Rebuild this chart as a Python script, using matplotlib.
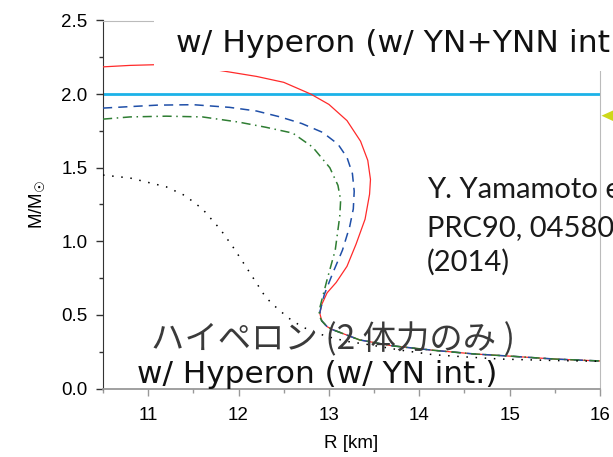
import matplotlib
matplotlib.use("Agg")
import matplotlib.pyplot as plt
from matplotlib.patches import Rectangle, Polygon
from matplotlib.ticker import MultipleLocator

# ---- data (R [km], M/Msun) ----
red_R = [10.5, 10.8, 11.1, 11.5, 11.9, 12.2, 12.5, 12.8, 13.0, 13.2, 13.35, 13.43, 13.46, 13.45,
         13.40, 13.30, 13.20, 13.08, 12.98, 12.92, 12.90, 12.92, 12.98, 13.04, 13.34, 13.7, 14.15,
         14.6, 15.0, 15.5, 16.0]
red_M = [2.185, 2.195, 2.20, 2.19, 2.15, 2.12, 2.08, 2.00, 1.93, 1.82, 1.68, 1.55, 1.42, 1.32,
         1.15, 0.98, 0.83, 0.72, 0.65, 0.57, 0.51, 0.46, 0.42, 0.40, 0.33, 0.29, 0.26,
         0.235, 0.22, 0.20, 0.187]

blue_R = [10.5, 10.8, 11.1, 11.5, 11.9, 12.2, 12.46, 12.7, 12.93, 13.1, 13.2, 13.26, 13.28, 13.27,
          13.23, 13.15, 13.04, 12.95, 12.90, 12.92, 12.98, 13.04, 13.34, 13.7, 14.15, 14.6, 15.0,
          15.5, 16.0]
blue_M = [1.905, 1.915, 1.925, 1.928, 1.91, 1.885, 1.845, 1.80, 1.74, 1.66, 1.57, 1.46, 1.34, 1.22,
          1.10, 0.94, 0.78, 0.64, 0.52, 0.46, 0.42, 0.40, 0.33, 0.29, 0.26, 0.235, 0.22,
          0.20, 0.187]

green_R = [10.5, 10.8, 11.2, 11.6, 12.0, 12.3, 12.6, 12.82, 13.01, 13.1, 13.13, 13.12, 13.07,
           12.98, 12.90, 12.89, 12.92, 12.98, 13.04, 13.34, 13.7, 14.15, 14.6, 15.0, 15.5, 16.0]
green_M = [1.83, 1.845, 1.85, 1.845, 1.81, 1.775, 1.735, 1.64, 1.50, 1.38, 1.28, 1.17, 0.94,
           0.74, 0.55, 0.50, 0.46, 0.42, 0.40, 0.33, 0.29, 0.26, 0.235, 0.22, 0.20, 0.187]

dot_R = [10.5, 10.8, 11.0, 11.2, 11.41, 11.6, 11.8, 11.94, 12.1, 12.3, 12.4, 12.55, 12.7, 12.85,
         13.0, 13.2, 13.42, 13.8, 14.15, 14.5, 14.9, 15.5, 16.0]
dot_M = [1.45, 1.43, 1.40, 1.37, 1.31, 1.22, 1.08, 0.96, 0.81, 0.62, 0.56, 0.48, 0.42, 0.38,
         0.35, 0.32, 0.30, 0.26, 0.23, 0.215, 0.20, 0.19, 0.185]

obs_mass = 2.0
x_ticks = [11, 12, 13, 14, 15, 16]
y_ticks = [0.0, 0.5, 1.0, 1.5, 2.0, 2.5]

W, H = 613, 457
fig = plt.figure(figsize=(W / 100, H / 100), dpi=100)
ax = fig.add_axes([103 / W, 1 - 388.5 / H, (600 - 103) / W, (388.5 - 20.5) / H])

ax.plot(red_R, red_M, color="#ff2a2a", lw=0.9, zorder=3)
ax.plot(blue_R, blue_M, color="#1f4fa8", lw=1.1, ls=(0, (6, 4)), zorder=3)
ax.plot(green_R, green_M, color="#2e7d32", lw=1.1, ls=(0, (6, 3, 1, 3)), zorder=3)
ax.plot(dot_R, dot_M, color="black", lw=1.1, ls=(0, (1, 5)), zorder=3)
ax.axhline(obs_mass, color="#1cb2e8", lw=2.0, zorder=2)

ax.set_xlim(10.5, 16)
ax.set_ylim(0, 2.5)
ax.set_xticks(x_ticks)
ax.set_yticks(y_ticks)
ax.set_yticklabels([f"{v:.1f}" for v in y_ticks])
ax.xaxis.set_minor_locator(MultipleLocator(0.5))
ax.yaxis.set_minor_locator(MultipleLocator(0.25))

tickfont = "Liberation Sans"
for lab in ax.get_xticklabels() + ax.get_yticklabels():
    lab.set_fontfamily(tickfont)
    lab.set_fontsize(13.5)
ax.tick_params(axis="y", which="major", direction="out", length=5, width=1, color="#333333", pad=6)
ax.tick_params(axis="y", which="minor", direction="out", length=3, width=1, color="#333333")
ax.tick_params(axis="x", which="major", direction="out", length=5, width=1, color="#999999", pad=8)
ax.tick_params(axis="x", which="minor", direction="out", length=3, width=1, color="#999999")

ax.spines["left"].set_color("#333333")
ax.spines["bottom"].set_color("#999999")
ax.spines["bottom"].set_linewidth(1.3)
ax.spines["top"].set_color("#bbbbbb")
ax.spines["right"].set_color("#bbbbbb")

ax.set_xlabel("R [km]", fontfamily=tickfont, fontsize=13.5, labelpad=8)
ax.set_ylabel(r"M/M$_☉$", fontfamily=tickfont, fontsize=13.5, labelpad=10)

# reference text (runs past the figure edge, as in the original)
reffont = "Lato"
fig.text(427 / W, 1 - 198 / H, "Y. Yamamoto et al.", fontfamily=reffont, fontsize=21,
         color="#1a1a1a", va="baseline", zorder=2)
fig.text(427 / W, 1 - 236 / H, "PRC90, 045805", fontfamily=reffont, fontsize=21,
         color="#1a1a1a", va="baseline", zorder=2)
fig.text(427 / W, 1 - 271 / H, "(2014)", fontfamily=reffont, fontsize=21,
         color="#1a1a1a", va="baseline", zorder=2)

# white box and heading on top
headfont = "DejaVu Sans"
fig.add_artist(Rectangle((154 / W, 1 - 71 / H), (W - 154) / W, 71 / H, transform=fig.transFigure,
                         facecolor="white", edgecolor="none", zorder=5))
fig.text(176 / W, 1 - 52 / H, "w/ Hyperon (w/ YN+YNN int.)", fontfamily=headfont, fontsize=22.6,
         color="#111111", va="baseline", zorder=6)

fig.text(151 / W, 1 - 349 / H, "ハイペロン (2 体力のみ )",
         fontfamily=["Noto Sans CJK JP", "DejaVu Sans"], fontsize=24, color="#3a3a3a",
         va="baseline", zorder=6)
fig.text(137 / W, 1 - 383 / H, "w/ Hyperon (w/ YN int.)", fontfamily=headfont, fontsize=22.4,
         color="#111111", va="baseline", zorder=6)

# yellow-green arrow head at right edge
fig.add_artist(Polygon([(601.5 / W, 1 - 115.7 / H), (W / W, 1 - 110.5 / H), (W / W, 1 - 121 / H)],
                       closed=True, transform=fig.transFigure, facecolor="#cdd81a",
                       edgecolor="none", zorder=6))

fig.savefig("out.png", dpi=100)
